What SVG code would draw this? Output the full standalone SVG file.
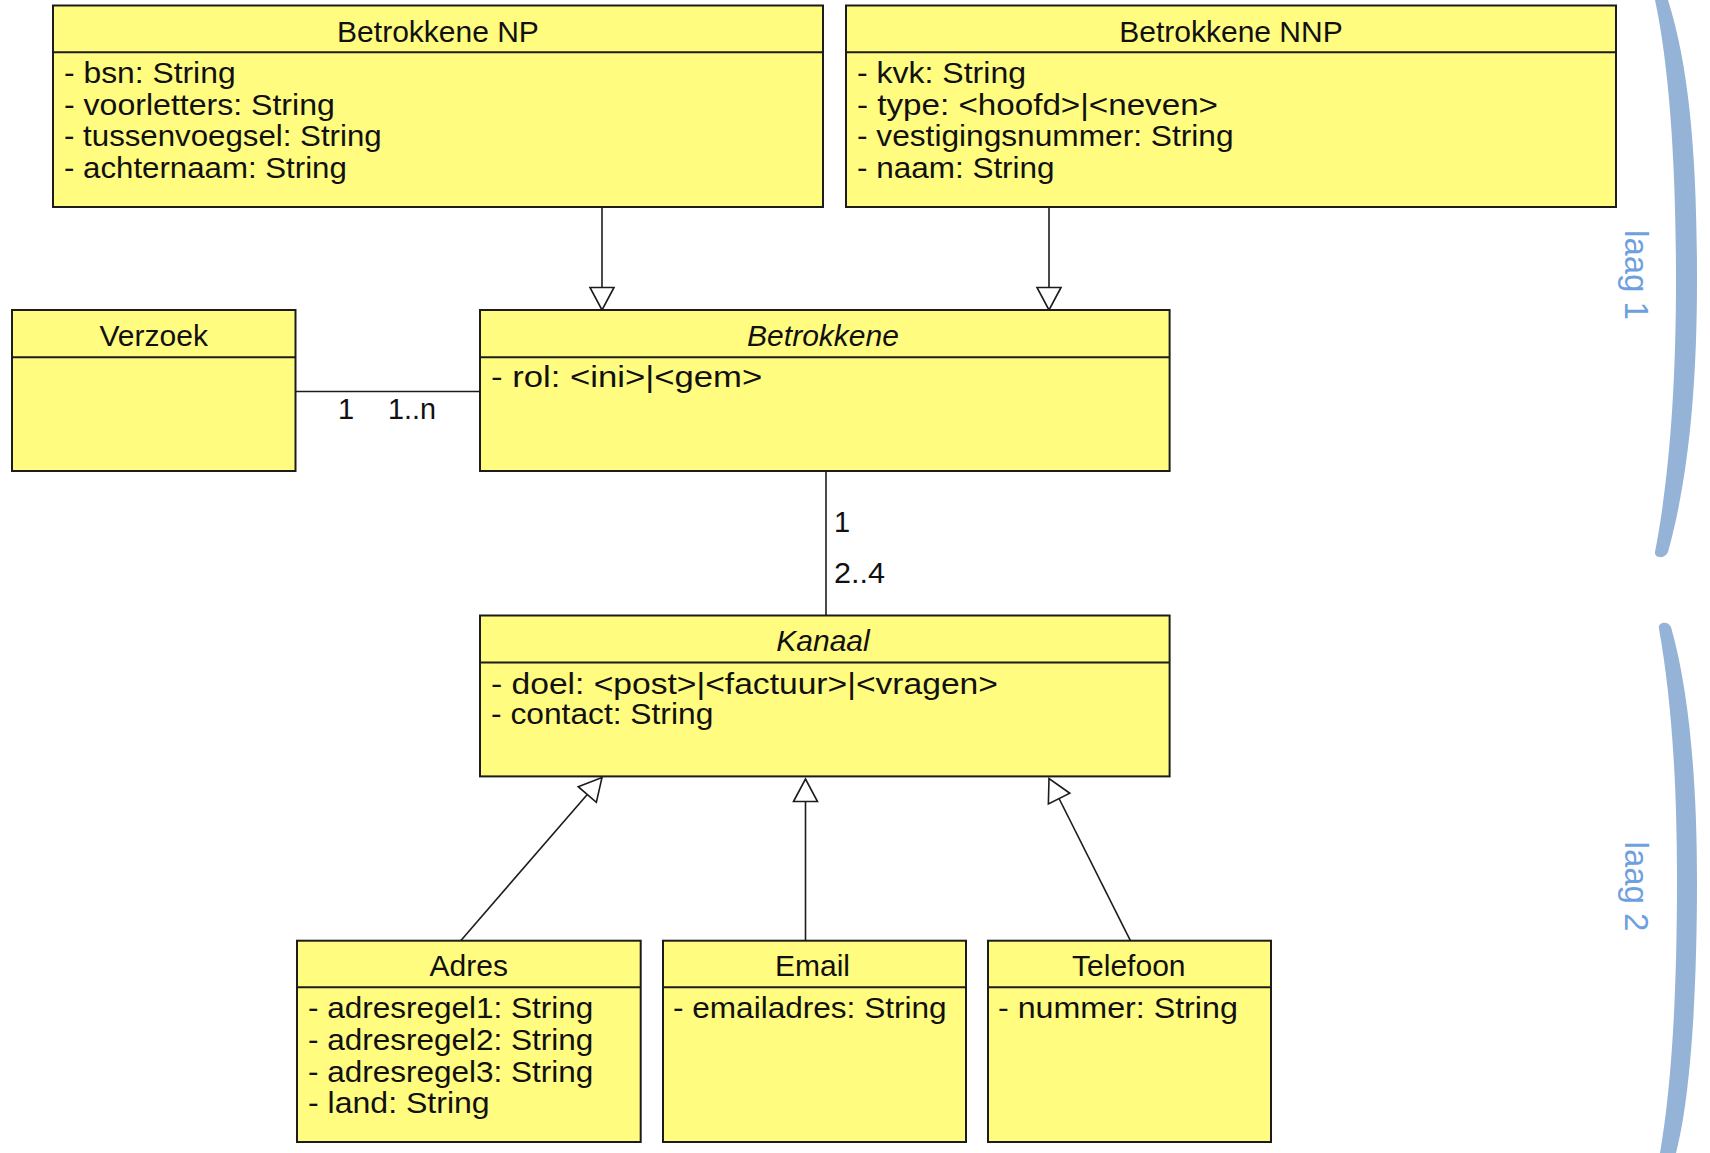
<svg xmlns="http://www.w3.org/2000/svg" width="1710" height="1153" viewBox="0 0 1710 1153">
<style>
.box{fill:#FFFC80;stroke:#1c1c1c;stroke-width:2}
.div{stroke:#1c1c1c;stroke-width:2}
.t{font-family:"Liberation Sans",Arial,sans-serif;font-size:30px;fill:#111}
.title{text-anchor:middle}
.it{font-style:italic}
.c{stroke:#1c1c1c;stroke-width:1.6;fill:none}
.gen{marker-end:url(#tri)}
.m{font-family:"Liberation Sans",Arial,sans-serif;font-size:29px;fill:#111}
.brace{fill:#95B3D7}
.laag{font-family:"Liberation Sans",Arial,sans-serif;font-size:33px;fill:#6E9FDE;text-anchor:middle}
</style>
<defs>
<marker id="tri" markerUnits="userSpaceOnUse" markerWidth="26" markerHeight="28" viewBox="0 0 26 28" refX="24" refY="14" orient="auto">
<path d="M1.5,2 L24,14 L1.5,26 Z" fill="#fff" stroke="#1c1c1c" stroke-width="1.6"/>
</marker>
</defs>
<rect width="1710" height="1153" fill="#fff"/>

<g id="connectors">
<line class="c gen" x1="602" y1="207" x2="602" y2="310"/>
<line class="c gen" x1="1049" y1="207" x2="1049" y2="310"/>
<line class="c" x1="295.5" y1="391.5" x2="480" y2="391.5"/>
<text class="m" x="338" y="419">1</text>
<text class="m" x="388" y="419" textLength="48" lengthAdjust="spacingAndGlyphs">1..n</text>
<line class="c" x1="826" y1="471" x2="826" y2="615.5"/>
<text class="m" x="834" y="532">1</text>
<text class="m" x="834" y="583" textLength="51" lengthAdjust="spacingAndGlyphs">2..4</text>
<line class="c gen" x1="460.7" y1="940.7" x2="602" y2="777.5"/>
<line class="c gen" x1="805.5" y1="940.7" x2="805.5" y2="779"/>
<line class="c gen" x1="1130.4" y1="940.7" x2="1049" y2="778.5"/>
</g>

<g id="np">
<rect class="box" x="53" y="5.5" width="770" height="201.5"/>
<line class="div" x1="53" y1="52.3" x2="823" y2="52.3"/>
<text class="t title" x="438" y="41.7">Betrokkene NP</text>
<text class="t" x="64" y="83" textLength="171.6" lengthAdjust="spacingAndGlyphs">- bsn: String</text>
<text class="t" x="64" y="114.5" textLength="270.8" lengthAdjust="spacingAndGlyphs">- voorletters: String</text>
<text class="t" x="64" y="146" textLength="317.7" lengthAdjust="spacingAndGlyphs">- tussenvoegsel: String</text>
<text class="t" x="64" y="178" textLength="282.8" lengthAdjust="spacingAndGlyphs">- achternaam: String</text>
</g>

<g id="nnp">
<rect class="box" x="846" y="5.5" width="770" height="201.5"/>
<line class="div" x1="846" y1="52.3" x2="1616" y2="52.3"/>
<text class="t title" x="1231" y="41.7">Betrokkene NNP</text>
<text class="t" x="857" y="83" textLength="169" lengthAdjust="spacingAndGlyphs">- kvk: String</text>
<text class="t" x="857" y="114.5" textLength="361" lengthAdjust="spacingAndGlyphs">- type: &lt;hoofd&gt;|&lt;neven&gt;</text>
<text class="t" x="857" y="146" textLength="376.5" lengthAdjust="spacingAndGlyphs">- vestigingsnummer: String</text>
<text class="t" x="857" y="178" textLength="197.6" lengthAdjust="spacingAndGlyphs">- naam: String</text>
</g>

<g id="verzoek">
<rect class="box" x="12" y="310" width="283.5" height="161"/>
<line class="div" x1="12" y1="357.3" x2="295.5" y2="357.3"/>
<text class="t title" x="153.7" y="346">Verzoek</text>
</g>

<g id="betrokkene">
<rect class="box" x="480" y="310" width="689.6" height="161"/>
<line class="div" x1="480" y1="357.3" x2="1169.6" y2="357.3"/>
<text class="t title it" x="823" y="346">Betrokkene</text>
<text class="t" x="491" y="387" textLength="271.3" lengthAdjust="spacingAndGlyphs">- rol: &lt;ini&gt;|&lt;gem&gt;</text>
</g>

<g id="kanaal">
<rect class="box" x="480" y="615.5" width="689.6" height="160.9"/>
<line class="div" x1="480" y1="662.5" x2="1169.6" y2="662.5"/>
<text class="t title it" x="823" y="651">Kanaal</text>
<text class="t" x="491" y="694" textLength="506.9" lengthAdjust="spacingAndGlyphs">- doel: &lt;post&gt;|&lt;factuur&gt;|&lt;vragen&gt;</text>
<text class="t" x="491" y="724" textLength="222.3" lengthAdjust="spacingAndGlyphs">- contact: String</text>
</g>

<g id="adres">
<rect class="box" x="297" y="940.7" width="343.7" height="201.3"/>
<line class="div" x1="297" y1="987.3" x2="640.7" y2="987.3"/>
<text class="t title" x="468.8" y="975.7">Adres</text>
<text class="t" x="308" y="1018" textLength="285.3" lengthAdjust="spacingAndGlyphs">- adresregel1: String</text>
<text class="t" x="308" y="1050" textLength="285.3" lengthAdjust="spacingAndGlyphs">- adresregel2: String</text>
<text class="t" x="308" y="1081.5" textLength="285.3" lengthAdjust="spacingAndGlyphs">- adresregel3: String</text>
<text class="t" x="308" y="1113" textLength="181.7" lengthAdjust="spacingAndGlyphs">- land: String</text>
</g>

<g id="email">
<rect class="box" x="663" y="940.7" width="303" height="201.3"/>
<line class="div" x1="663" y1="987.3" x2="966" y2="987.3"/>
<text class="t title" x="812.5" y="975.7">Email</text>
<text class="t" x="673" y="1018" textLength="273.6" lengthAdjust="spacingAndGlyphs">- emailadres: String</text>
</g>

<g id="telefoon">
<rect class="box" x="988" y="940.7" width="283" height="201.3"/>
<line class="div" x1="988" y1="987.3" x2="1271" y2="987.3"/>
<text class="t title" x="1128.8" y="975.7">Telefoon</text>
<text class="t" x="998" y="1018" textLength="239.8" lengthAdjust="spacingAndGlyphs">- nummer: String</text>
</g>

<g id="laag1">
<path class="brace" d="M1655,0 C1670,70 1676,170 1676,280 C1676,390 1669,480 1655,552 C1654,558 1664,560 1668,552 C1688,480 1697,390 1697,280 C1697,160 1690,70 1668,0 Z"/>
<text class="laag" transform="translate(1625,275) rotate(90)">laag 1</text>
</g>

<g id="laag2">
<path class="brace" d="M1659,629 C1657,622 1668,620 1671,627 C1689,690 1697,780 1697,880 C1697,1000 1690,1100 1676,1153 L1660,1153 C1671,1090 1677,1000 1677,880 C1677,770 1670,690 1659,629 Z"/>
<text class="laag" transform="translate(1625,886.5) rotate(90)">laag 2</text>
</g>
</svg>
